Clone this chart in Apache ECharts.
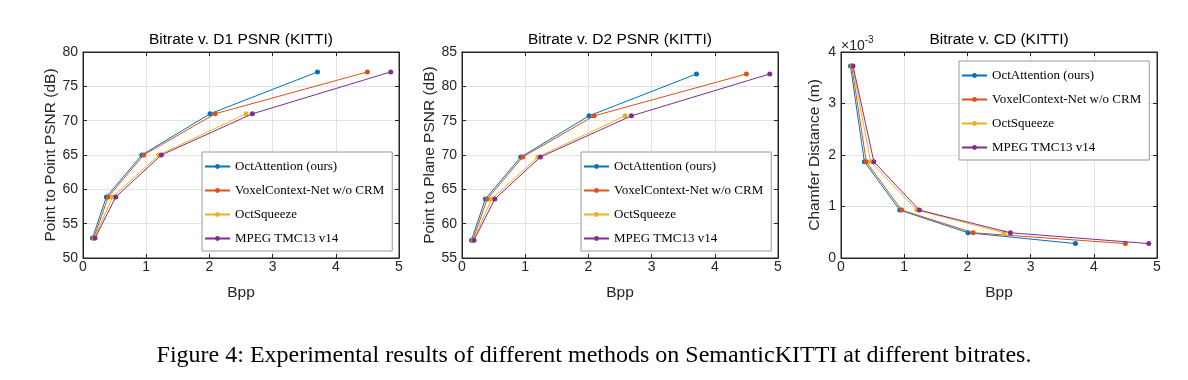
<!DOCTYPE html>
<html>
<head>
<meta charset="utf-8">
<script src="https://cdn.jsdelivr.net/npm/echarts@6/dist/echarts.min.js"></script>
<style>
html,body{margin:0;padding:0;background:#fff;}
#chart{width:1188px;height:380px;}
</style>
</head>
<body>
<div id="chart"></div>
<script>
// ---- data ----
var methods = ['OctAttention (ours)', 'VoxelContext-Net w/o CRM', 'OctSqueeze', 'MPEG TMC13 v14'];
var colors = ['#0072BD', '#D95319', '#EDB120', '#7E2F8E'];
var bppOctAttention = [0.15, 0.37, 0.93, 2.01, 3.71];
var bppVoxelContext = [0.17, 0.40, 0.96, 2.09, 4.50];
var bppOctSqueeze   = [0.18, 0.47, 1.20, 2.58];
var bppMpeg         = [0.19, 0.52, 1.24, 2.68, 4.87];
var d1Psnr = [52.9, 58.9, 65.0, 71.0, 77.1];
var d2Psnr = [57.6, 63.6, 69.7, 75.7, 81.8];
var chamfer = [0.00373, 0.00187, 0.00093, 0.00049, 0.00028];
var xTicks = [0, 1, 2, 3, 4, 5];
var titles = ['Bitrate v. D1 PSNR (KITTI)', 'Bitrate v. D2 PSNR (KITTI)', 'Bitrate v. CD (KITTI)'];
var yNames = ['Point to Point PSNR (dB)', 'Point to Plane PSNR (dB)', 'Chamfer Distance (m)'];
var caption = 'Figure 4: Experimental results of different methods on SemanticKITTI at different bitrates.';

var bppSets = [bppOctAttention, bppVoxelContext, bppOctSqueeze, bppMpeg];
var metricSets = [d1Psnr, d2Psnr, chamfer];
var yRanges = [[50, 80, 5], [55, 85, 5], [0, 0.004, 0.001]];

var gridLefts = [83, 462, 841];
var gridW = 316, gridTop = 52, gridH = 206;
var legendPos = [[202, 152], [581, 152], [959, 61]];

var axisColor = '#262626';
var sans = 'Liberation Sans';
var serif = 'Liberation Serif';

var grids = [], xAxes = [], yAxes = [], series = [], legends = [], titleList = [];

for (var g = 0; g < 3; g++) {
  grids.push({left: gridLefts[g], top: gridTop, width: gridW, height: gridH, containLabel: false,
    show: true, backgroundColor: '#fff', borderColor: axisColor, borderWidth: 1});
  var xr = {type: 'value', gridIndex: g, min: xTicks[0], max: xTicks[xTicks.length - 1], interval: 1};
  xAxes.push(Object.assign({}, xr, {
    position: 'bottom', name: 'Bpp', nameLocation: 'middle', nameGap: 27,
    nameTextStyle: {fontFamily: sans, fontSize: 15.5, color: axisColor},
    axisLine: {show: true, onZero: false, lineStyle: {color: axisColor, width: 1}},
    axisTick: {show: true, inside: true, length: 4, lineStyle: {color: axisColor}},
    axisLabel: {show: true, margin: 2, fontFamily: sans, fontSize: 14, color: axisColor},
    splitLine: {show: true, lineStyle: {color: '#e3e3e3', width: 1}}
  }));
  xAxes.push(Object.assign({}, xr, {
    position: 'top',
    axisLine: {show: true, onZero: false, lineStyle: {color: axisColor, width: 1}},
    axisTick: {show: true, inside: true, length: 4, lineStyle: {color: axisColor}},
    axisLabel: {show: false}, splitLine: {show: false}
  }));
  var yr = {type: 'value', gridIndex: g, min: yRanges[g][0], max: yRanges[g][1], interval: yRanges[g][2]};
  var isCD = (g === 2);
  yAxes.push(Object.assign({}, yr, {
    position: 'left', name: yNames[g], nameLocation: 'middle', nameGap: isCD ? 18 : 24,
    nameTextStyle: {fontFamily: sans, fontSize: 15.5, color: axisColor},
    axisLine: {show: true, onZero: false, lineStyle: {color: axisColor, width: 1}},
    axisTick: {show: true, inside: true, length: 4, lineStyle: {color: axisColor}},
    axisLabel: {show: true, margin: 5, fontFamily: sans, fontSize: 14, color: axisColor,
      formatter: isCD ? function (v) { return String(Math.round(v * 1000)); } : null},
    splitLine: {show: true, lineStyle: {color: '#e3e3e3', width: 1}}
  }));
  yAxes.push(Object.assign({}, yr, {
    position: 'right',
    axisLine: {show: true, onZero: false, lineStyle: {color: axisColor, width: 1}},
    axisTick: {show: true, inside: true, length: 4, lineStyle: {color: axisColor}},
    axisLabel: {show: false}, splitLine: {show: false}
  }));
  for (var m = 0; m < 4; m++) {
    var xs = bppSets[m], ys = metricSets[g], pts = [];
    for (var i = 0; i < xs.length; i++) pts.push([xs[i], ys[i]]);
    series.push({
      type: 'line', name: methods[m], xAxisIndex: g * 2, yAxisIndex: g * 2,
      data: pts, symbol: 'circle', symbolSize: 5, showSymbol: true,
      color: colors[m], lineStyle: {width: 1, color: colors[m]},
      itemStyle: {color: colors[m]}, animation: false, z: 2 + m
    });
  }
  legends.push({
    orient: 'vertical', left: legendPos[g][0], top: legendPos[g][1],
    data: methods, itemWidth: 25, itemHeight: 6, itemGap: 9,
    padding: [7, 8, 5, 2], backgroundColor: '#fff', borderColor: '#9a9a9a', borderWidth: 1,
    borderRadius: 0, selectedMode: false,
    textStyle: {fontFamily: serif, fontSize: 13, color: '#000', lineHeight: 15}
  });
  titleList.push({
    text: titles[g], left: gridLefts[g] + gridW / 2, top: 32, textAlign: 'center', padding: 0,
    textStyle: {fontFamily: sans, fontSize: 15.5, fontWeight: 'normal', color: '#000'}
  });
}
titleList.push({
  text: '{a|×10}{b|-3}', left: 841, top: 35, padding: 0,
  textStyle: {fontWeight: 'normal', rich: {
    a: {fontFamily: sans, fontSize: 14, fontWeight: 'normal', color: axisColor, verticalAlign: 'bottom', lineHeight: 18},
    b: {fontFamily: sans, fontSize: 10, fontWeight: 'normal', color: axisColor, verticalAlign: 'top', lineHeight: 18}
  }}
});
titleList.push({
  text: caption, left: 'center', top: 344, padding: 0,
  textStyle: {fontFamily: serif, fontSize: 24, fontWeight: 'normal', color: '#000'}
});

var chart = echarts.init(document.getElementById('chart'), null, {renderer: 'canvas'});
chart.setOption({
  backgroundColor: '#fff',
  animation: false,
  title: titleList,
  legend: legends,
  grid: grids,
  xAxis: xAxes,
  yAxis: yAxes,
  series: series
});
</script>
</body>
</html>
